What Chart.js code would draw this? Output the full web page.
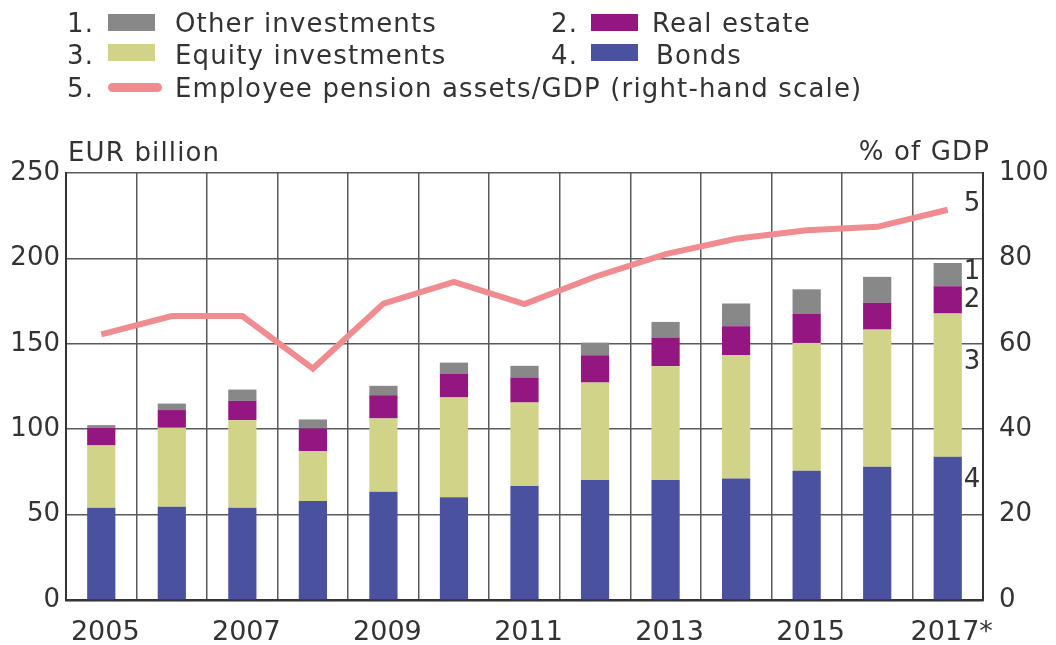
<!DOCTYPE html>
<html>
<head>
<meta charset="utf-8">
<script src="https://cdn.jsdelivr.net/npm/chart.js@4"></script>
<style>
  body { margin: 0; background: #fff; font-family: "DejaVu Sans", sans-serif; color: #333; }
  #wrap { position: relative; width: 1056px; height: 645px; }
  canvas { position: absolute; left: 0; top: 0; }
  .lg, .ttl { position: absolute; font-size: 26px; line-height: 30px; letter-spacing: 1.15px; white-space: nowrap; }
  .sw { position: absolute; width: 47px; height: 17px; }
  .ln { position: absolute; width: 54px; height: 9px; border-radius: 5px; }
</style>
</head>
<body>
<div id="wrap">
  <canvas id="myChart" width="1056" height="645"></canvas>
  <div class="lg" style="left:67px;top:8px">1.</div>
  <div class="sw" style="left:108px;top:14px;background:#888888"></div>
  <div class="lg" style="left:175px;top:8px">Other investments</div>
  <div class="lg" style="left:551px;top:8px">2.</div>
  <div class="sw" style="left:591px;top:14px;background:#941680"></div>
  <div class="lg" style="left:652px;top:8px">Real estate</div>
  <div class="lg" style="left:67px;top:40px">3.</div>
  <div class="sw" style="left:108px;top:44px;background:#d1d389"></div>
  <div class="lg" style="left:175px;top:40px">Equity investments</div>
  <div class="lg" style="left:551px;top:40px">4.</div>
  <div class="sw" style="left:591px;top:44px;background:#4a52a0"></div>
  <div class="lg" style="left:656px;top:40px">Bonds</div>
  <div class="lg" style="left:67px;top:73px">5.</div>
  <div class="ln" style="left:108px;top:83px;background:#f08c8f"></div>
  <div class="lg" style="left:175px;top:73px">Employee pension assets/GDP (right-hand scale)</div>
  <div class="ttl" style="left:68px;top:137px">EUR billion</div>
  <div class="ttl" style="right:66px;top:136px">% of GDP</div>
</div>
<script>
// Data
var years = ['2005', '2006', '2007', '2008', '2009', '2010', '2011', '2012', '2013', '2014', '2015', '2016', '2017*'];
var bonds = [54, 54.6, 54, 57.9, 63.4, 60.1, 66.7, 70.2, 70.2, 71.2, 75.7, 78, 83.9];
var equity = [36.5, 46.2, 51.3, 29.3, 42.9, 58.5, 48.9, 57.1, 66.7, 72.1, 74.8, 80.3, 83.8];
var realEstate = [10.3, 10.4, 11.3, 13.2, 13.6, 14, 14.7, 16, 16.8, 17, 17.2, 15.7, 16];
var otherInv = [1.6, 3.8, 6.6, 5.3, 5.5, 6.4, 6.8, 7.4, 9.1, 13.3, 14.2, 15.2, 13.6];
var pensionGdp = [62.2, 66.5, 66.5, 54.2, 69.4, 74.5, 69.3, 75.7, 81, 84.6, 86.6, 87.4, 91.4];
var leftTicks = [0, 50, 100, 150, 200, 250];
var rightTicks = [0, 20, 40, 60, 80, 100];
// series numbers next to the last bar (left-axis units)
var seriesMarks = ['1', '2', '3', '4'];
var seriesMarkAt = [192, 175.6, 139.3, 70.3];

var txt = '#333333';
var gridCol = '#5a5a5a';

// number labels at right of the last bar
var markPlugin = {
    id: 'marks',
    afterDatasetsDraw: function (chart) {
        var ctx = chart.ctx;
        var last = years.length - 1;
        var bar = chart.getDatasetMeta(0).data[last];
        var x = bar.x + bar.width / 2 + 2;
        ctx.save();
        ctx.font = '26px "DejaVu Sans"';
        ctx.fillStyle = txt;
        ctx.textBaseline = 'middle';
        ctx.textAlign = 'left';
        for (var i = 0; i < seriesMarks.length; i++) {
            ctx.fillText(seriesMarks[i], x, chart.scales.y.getPixelForValue(seriesMarkAt[i]));
        }
        var pt = chart.getDatasetMeta(4).data[last];
        ctx.fillText('5', x, pt.y - 5);
        ctx.restore();
    }
};

var ctx = document.getElementById('myChart').getContext('2d');
var myChart = new Chart(ctx, {
    type: 'bar',
    data: {
        labels: years,
        datasets: [
            { label: 'Bonds', data: bonds, backgroundColor: '#4a52a0', order: 1 },
            { label: 'Equity investments', data: equity, backgroundColor: '#d1d389', order: 1 },
            { label: 'Real estate', data: realEstate, backgroundColor: '#941680', order: 1 },
            { label: 'Other investments', data: otherInv, backgroundColor: '#888888', order: 1 },
            {
                type: 'line', label: 'Employee pension assets/GDP (right-hand scale)', data: pensionGdp,
                yAxisID: 'y1', borderColor: '#f08c8f', borderWidth: 6, pointRadius: 0,
                tension: 0, fill: false, order: 0
            }
        ]
    },
    options: {
        responsive: false,
        animation: false,
        layout: { padding: { top: 173, left: 0, right: 0, bottom: 0 } },
        plugins: { legend: { display: false }, tooltip: { enabled: false } },
        datasets: { bar: { barPercentage: 0.4, categoryPercentage: 1 } },
        scales: {
            x: {
                stacked: true,
                grid: { color: gridCol, lineWidth: 1.5, offset: true, drawTicks: false },
                border: { color: '#333', width: 2.5 },
                ticks: {
                    autoSkip: false, maxRotation: 0, padding: 17, labelOffset: 4, color: txt,
                    font: { family: 'DejaVu Sans', size: 27 },
                    callback: function (v, i) { return i % 2 === 0 ? years[i] : ''; }
                },
                afterFit: function (s) { s.height = 45; }
            },
            y: {
                stacked: true, min: 0, max: 250,
                afterBuildTicks: function (s) { s.ticks = leftTicks.map(function (v) { return { value: v }; }); },
                grid: { color: gridCol, lineWidth: 1.5, drawTicks: false },
                border: { color: '#333', width: 2 },
                ticks: { padding: 6, color: txt, font: { family: 'DejaVu Sans', size: 26 } },
                afterFit: function (s) { s.width = 66; }
            },
            y1: {
                position: 'right', min: 0, max: 100,
                afterBuildTicks: function (s) { s.ticks = rightTicks.map(function (v) { return { value: v }; }); },
                grid: { display: false, drawTicks: false },
                border: { color: '#333', width: 2 },
                ticks: { padding: 16, color: txt, font: { family: 'DejaVu Sans', size: 26 } },
                afterFit: function (s) { s.width = 73; }
            }
        }
    },
    plugins: [markPlugin]
});
</script>
</body>
</html>
